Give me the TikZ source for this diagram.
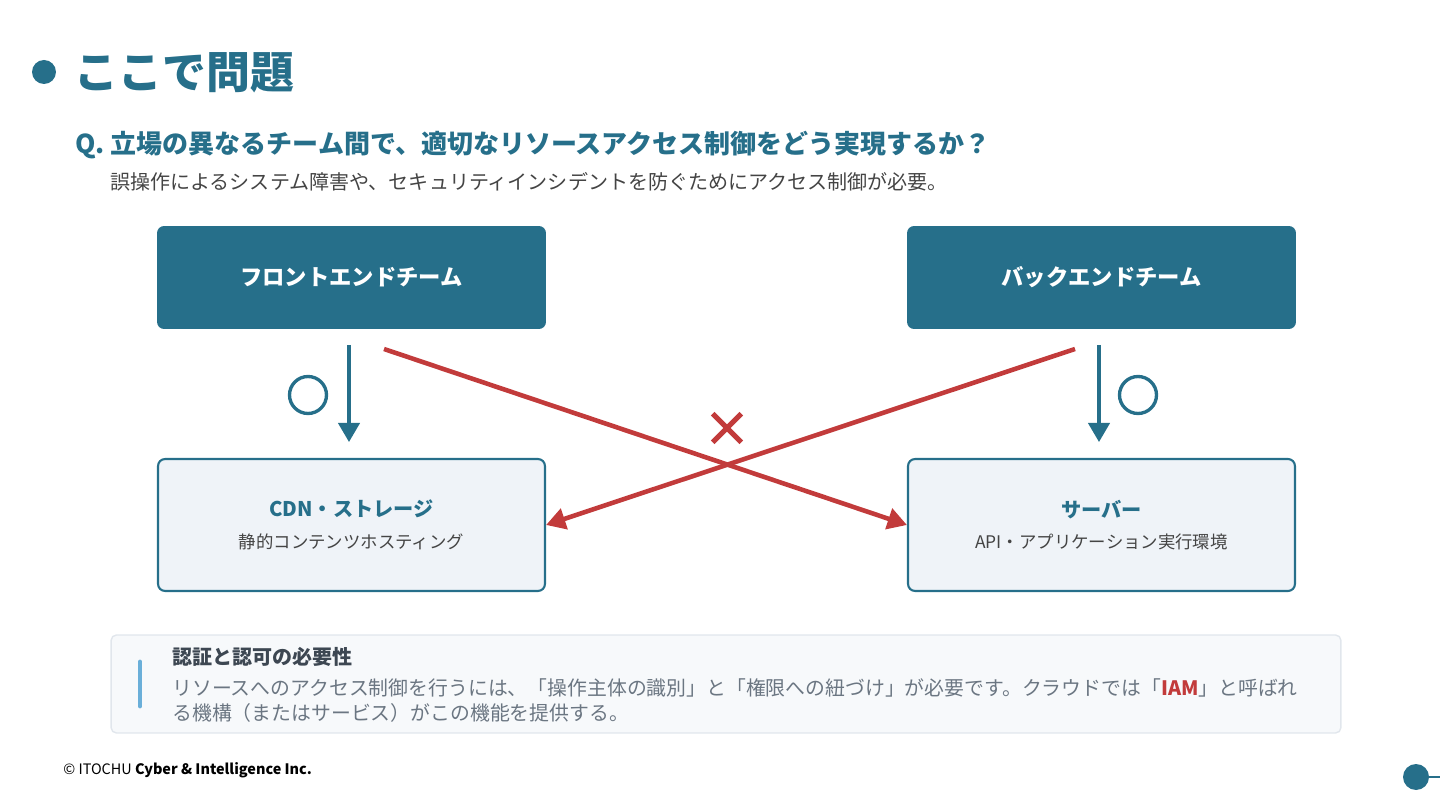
\documentclass[tikz,border=0pt]{standalone}
\usepackage{fontspec}
\setmainfont{Noto Sans CJK JP}
\usetikzlibrary{arrows.meta}
\definecolor{teal}{HTML}{266F8A}
\definecolor{ngred}{HTML}{C23B3B}
\definecolor{boxbg}{HTML}{EFF3F8}
\definecolor{notebg}{HTML}{F7F9FB}
\definecolor{noteline}{HTML}{E1E6EC}
\definecolor{barblue}{HTML}{6AAFD9}
\definecolor{subgray}{HTML}{444444}
\definecolor{notegray}{HTML}{6B7682}
\definecolor{headgray}{HTML}{3D4752}
\begin{document}
\begin{tikzpicture}
  [x=0.02cm,y=-0.02cm,every node/.style={inner sep=0pt}]
  \tikzset{team/.style={rectangle,rounded corners=4pt,fill=teal,minimum width=7.78cm,minimum height=2.06cm,
      text=white,font=\fontsize{12.7}{15}\selectfont\bfseries},
    res/.style={rectangle,rounded corners=4pt,draw=teal,line width=1.2pt,fill=boxbg,minimum width=7.74cm,
      minimum height=2.64cm,align=center,text=subgray},
    ok/.style={draw=teal,line width=2.5pt,-{Triangle[length=11pt,width=12pt]}},
    ng/.style={draw=ngred,line width=2.6pt,-{Triangle[length=11pt,width=12pt]}},
    okmark/.style={circle,draw=teal,line width=1.9pt,minimum size=0.74cm}}
  \useasboundingbox (0,0) rectangle (1440,810);
  % heading
  \fill[teal] (44,72) circle (0.24cm);
  \node[anchor=west,text=teal,font=\fontsize{25}{28}\selectfont\bfseries] (title) at (74,73) {ここで問題};
  \node[anchor=west,text=teal,font=\fontsize{14.8}{17}\selectfont\bfseries] (q) at (75,145)
    {Q. 立場の異なるチーム間で、適切なリソースアクセス制御をどう実現するか？};
  \node[anchor=west,text=subgray,font=\fontsize{11.4}{13}\selectfont] (qsub) at (110,182)
    {誤操作によるシステム障害や、セキュリティインシデントを防ぐためにアクセス制御が必要。};
  % teams and resources
  \node[team] (front) at (351.5,277.5) {フロントエンドチーム};
  \node[team] (back) at (1101.5,277.5) {バックエンドチーム};
  \node[res] (cdn) at (351.5,525)
    {{\color{teal}\fontsize{11.5}{14}\selectfont\bfseries CDN・ストレージ}\\[6pt]{\fontsize{9.9}{12}\selectfont 静的コンテンツホスティング}};
  \node[res] (server) at (1101.5,525)
    {{\color{teal}\fontsize{11.5}{14}\selectfont\bfseries サーバー}\\[6pt]{\fontsize{9.9}{12}\selectfont API・アプリケーション実行環境}};
  \coordinate (fa) at (349,345);
  \coordinate (ba) at (1099,345);
  \coordinate (fx) at (384,349);
  \coordinate (bx) at (1075,349);
  \draw[ok,shorten >=9pt] (fa) -- (fa |- cdn.north);
  \draw[ok,shorten >=9pt] (ba) -- (ba |- server.north);
  \draw[ng] (fx) -- (server.west);
  \draw[ng] (bx) -- (cdn.east);
  \node[okmark] (okl) at (308,395) {};
  \node[okmark] (okr) at (1138,395) {};
  \node[minimum size=0.56cm] (ngx) at (727,428) {};
  \draw[ngred,line width=3pt] (ngx.north west) -- (ngx.south east) (ngx.north east) -- (ngx.south west);
  % note
  \node[rectangle,rounded corners=3pt,draw=noteline,line width=0.8pt,fill=notebg,minimum width=24.6cm,minimum height=1.96cm] (note) at (726,684) {};
  \draw[barblue,line width=2.8pt,line cap=round] (140,662) -- (140,706);
  \node[anchor=west,text=headgray,font=\fontsize{11.4}{14}\selectfont\bfseries] (noteh) at (172,657) {認証と認可の必要性};
  \node[anchor=north west,align=left,text=notegray,font=\fontsize{11.3}{14.7}\selectfont] (notet) at (172,678)
    {リソースへのアクセス制御を行うには、「操作主体の識別」と「権限への紐づけ」が必要です。クラウドでは「{\color{ngred}\bfseries IAM}」と呼ばれ\\
     る機構（またはサービス）がこの機能を提供する。};
  % footer
  \node[anchor=west,font=\fontsize{8.2}{10}\selectfont] (copy) at (63,770) {© ITOCHU \textbf{Cyber \& Intelligence Inc.}};
  \fill[teal] (1416,777) circle (0.26cm);
  \draw[teal,line width=1.2pt] (1416,777) -- (1440,777);
\end{tikzpicture}
\end{document}
